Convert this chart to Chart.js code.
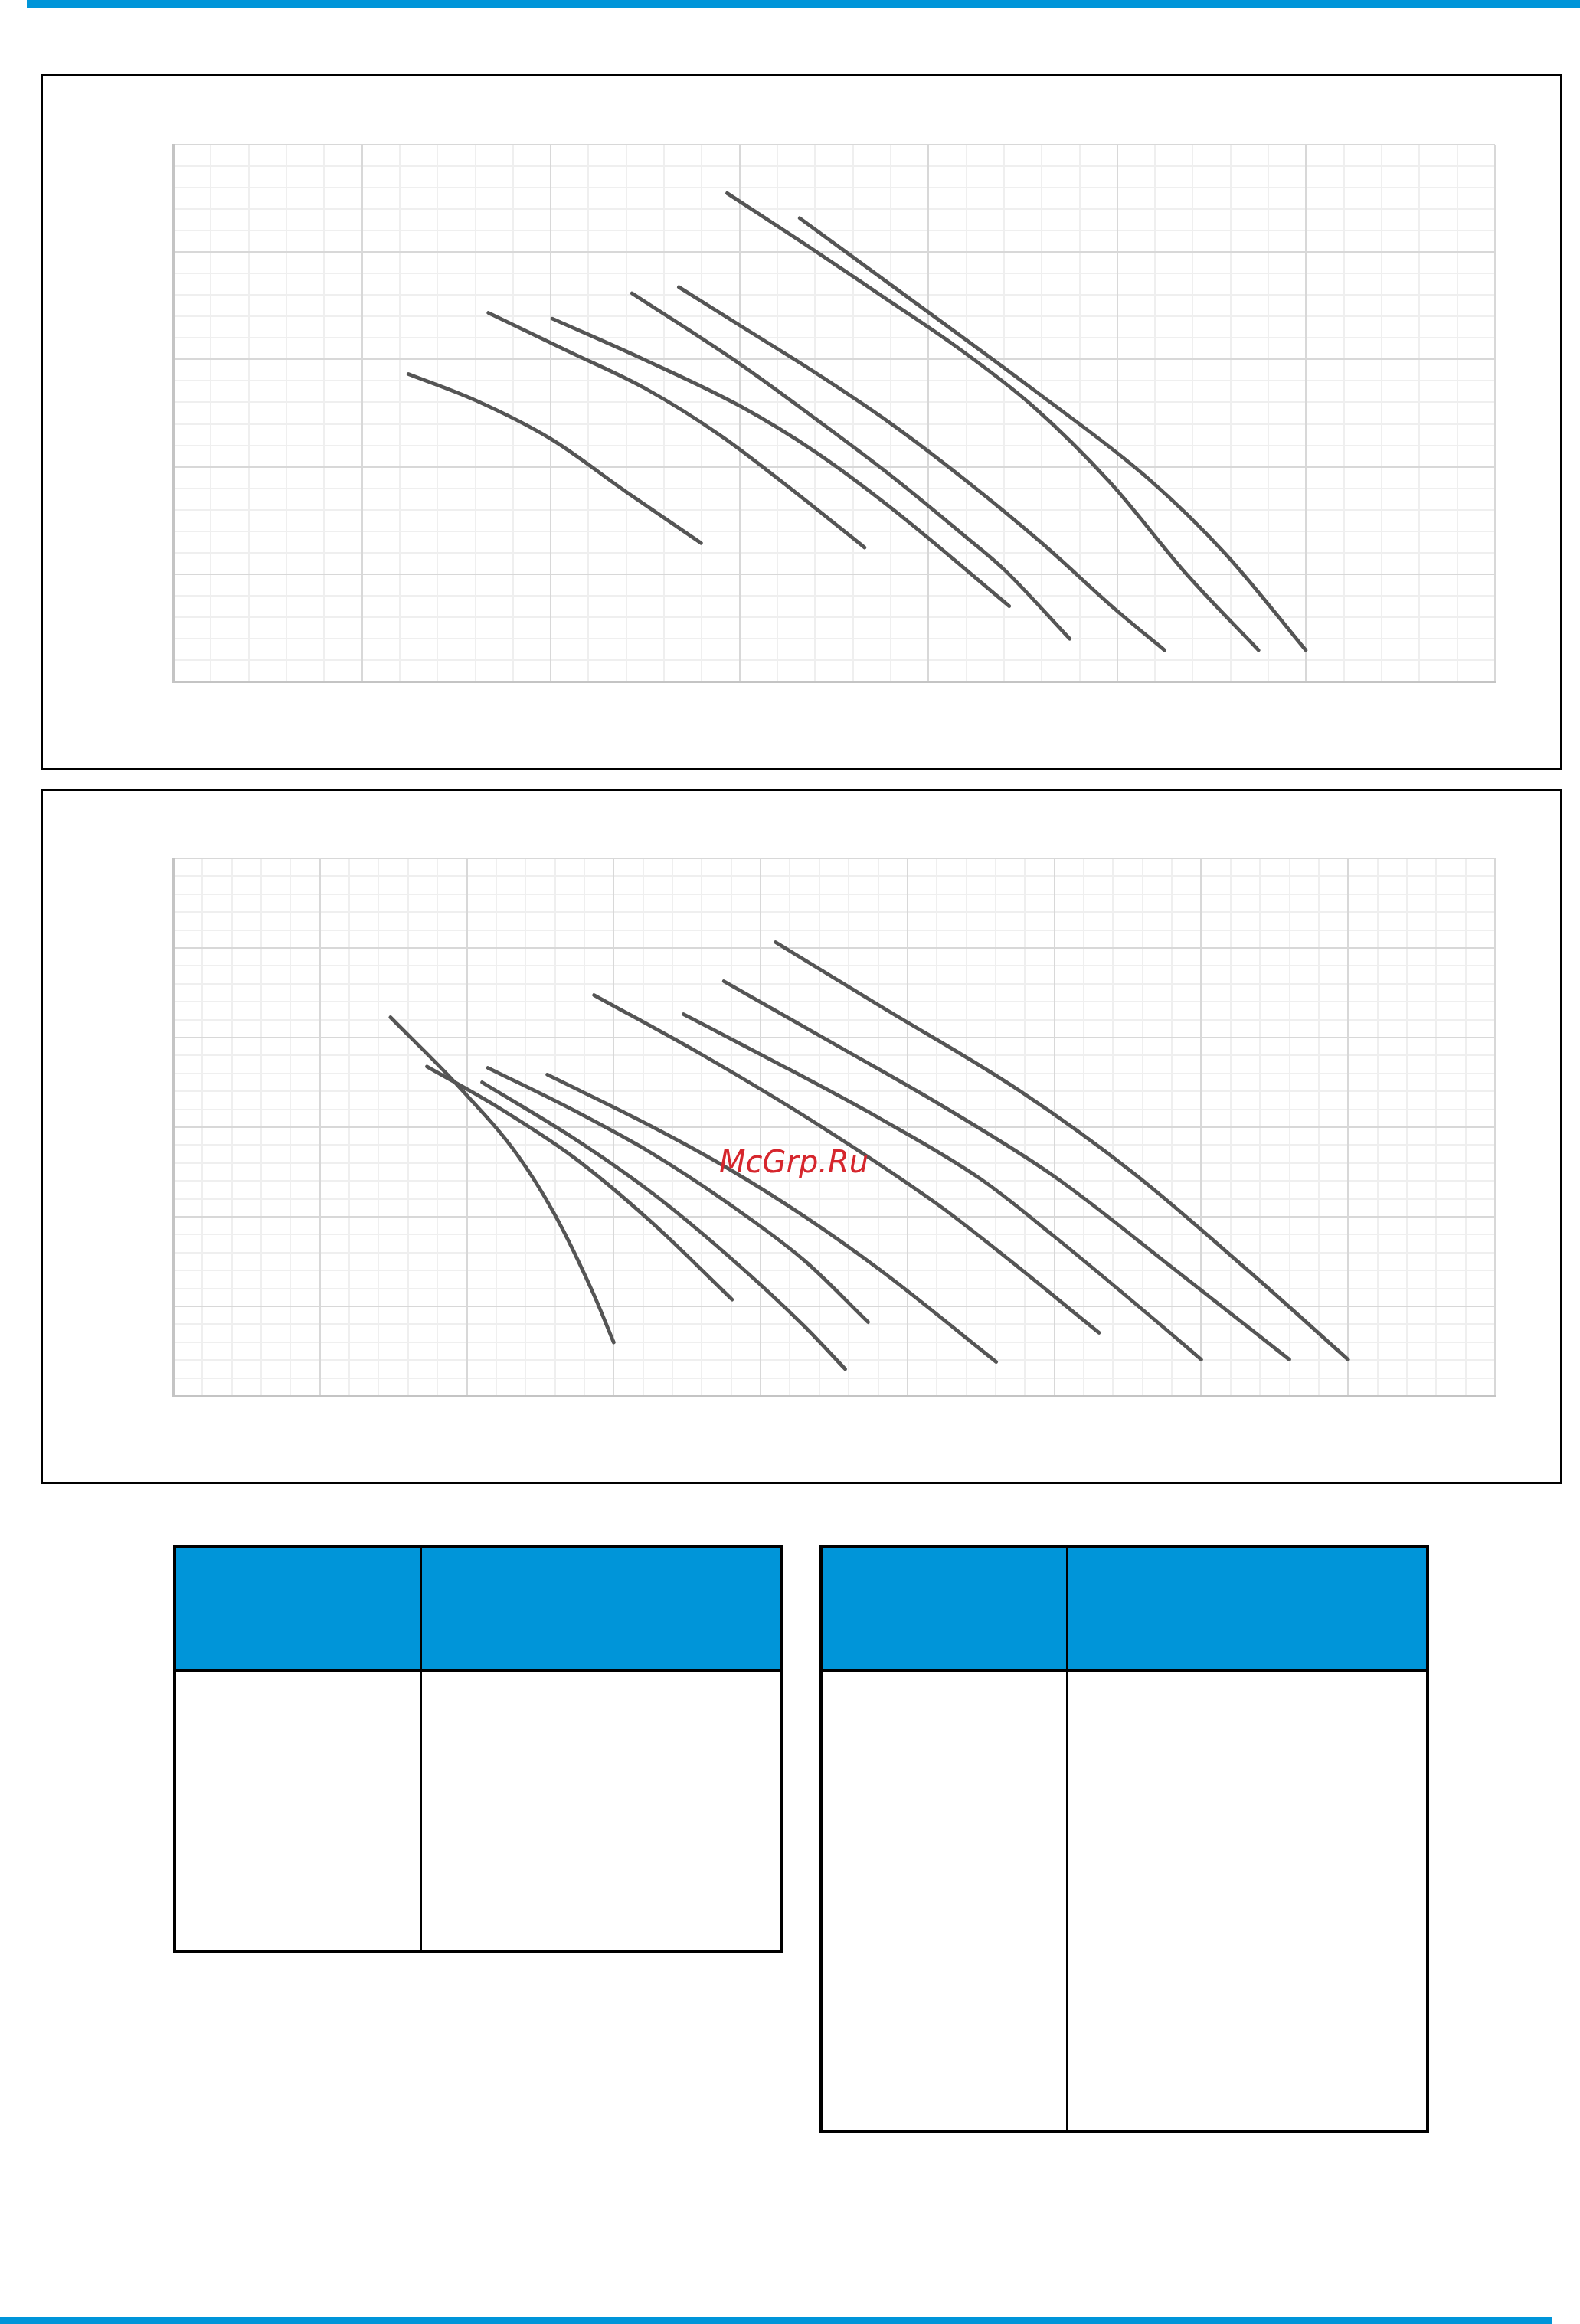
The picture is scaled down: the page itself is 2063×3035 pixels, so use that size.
<!DOCTYPE html>
<html>
<head>
<meta charset="utf-8">
<script src="https://cdn.jsdelivr.net/npm/chart.js@4/dist/chart.umd.min.js"></script>
<style>
    html, body { margin: 0; padding: 0; background: #fff; }
    body { width: 2063px; height: 3035px; position: relative; overflow: hidden; font-family: "DejaVu Sans", sans-serif; }
    .bar { position: absolute; height: 10px; background: #0095d9; }
    .frame { position: absolute; left: 54px; width: 1985px; border: 2px solid #000; box-sizing: border-box; }
    .plot { position: absolute; left: 222px; width: 1734px; }
    .tbl { position: absolute; top: 2018px; width: 796px; border: 4px solid #000; box-sizing: border-box; }
    .tbl .head { height: 157px; background: #0095d9; border-bottom: 4px solid #000; }
    .tbl .split { position: absolute; top: 0; bottom: 0; width: 3px; background: #000; }
    .mark { position: absolute; left: 939px; top: 1494px; font: oblique 40px "DejaVu Sans"; color: #d6262d; white-space: nowrap; }
</style>
</head>
<body>
<div class="bar" style="left:35px; right:0; top:0;"></div>

<div class="frame" style="top:97px; height:908px;"></div>
<div class="plot" style="top:185px; height:709px;"><canvas id="chartTop" width="1734" height="709"></canvas></div>

<div class="frame" style="top:1031px; height:907px;"></div>
<div class="plot" style="top:1117px; height:710px;"><canvas id="chartBottom" width="1734" height="710"></canvas></div>
<div class="mark">McGrp.Ru</div>

<div class="tbl" style="left:226px; height:533px;"><div class="head"></div><div class="split" style="left:318px;"></div></div>
<div class="tbl" style="left:1070px; height:767px;"><div class="head"></div><div class="split" style="left:318px;"></div></div>

<div class="bar" style="left:0; width:2026px; top:3026px; height:9px;"></div>

<script>
// 위쪽 그래프: 격자 단위 (가로 0-35, 세로 0-25)
const topRangeX = 35;
const topRangeY = 25;
const topCurveA = [[6.23, 14.32], [8.0, 13.1], [10.0, 11.3], [12.0, 8.83], [13.98, 6.45]];
const topCurveB = [[8.35, 17.17], [10.5, 15.35], [12.5, 13.65], [14.5, 11.45], [16.5, 8.78], [18.31, 6.24]];
const topCurveC = [[10.04, 16.9], [12.44, 15.02], [15.0, 12.84], [17.0, 10.7], [19.0, 8.1], [22.14, 3.51]];
const topCurveD = [[12.15, 18.08], [15.0, 14.8], [17.0, 12.25], [19.0, 9.6], [21.0, 6.72], [22.0, 5.22], [23.74, 1.99]];
const topCurveE = [[13.39, 18.37], [15.0, 16.59], [17.0, 14.39], [19.0, 12.02], [21.0, 9.35], [23.0, 6.45], [25.0, 3.28], [26.25, 1.46]];
const topCurveF = [[14.67, 22.74], [16.69, 20.42], [18.72, 18.01], [20.75, 15.58], [22.78, 12.8], [24.81, 9.27], [26.84, 4.99], [28.74, 1.46]];
const topCurveG = [[16.59, 21.58], [19.74, 17.53], [22.78, 13.59], [25.82, 9.45], [27.85, 5.97], [29.99, 1.46]];

// 아래쪽 그래프: 격자 단위 (가로 0-45, 세로 0-30)
const bottomRangeX = 45;
const bottomRangeY = 30;
const bottomCurveH = [[7.4, 21.13], [9.74, 17.24], [11.7, 13.5], [13.0, 10.1], [14.31, 5.7], [15.0, 2.99]];
const bottomCurveI = [[8.64, 18.38], [11.04, 16.13], [13.66, 13.29], [16.27, 9.72], [19.03, 5.38]];
const bottomCurveJ = [[10.52, 17.5], [13.66, 14.36], [16.27, 11.37], [18.88, 7.84], [21.49, 3.89], [22.88, 1.5]];
const bottomCurveK = [[10.72, 18.31], [13.66, 15.92], [16.27, 13.57], [18.88, 10.77], [21.49, 7.56], [23.66, 4.12]];
const bottomCurveL = [[12.74, 17.93], [16.27, 15.06], [18.88, 12.71], [21.49, 10.02], [24.1, 6.99], [28.02, 1.9]];
const bottomCurveM = [[14.33, 22.37], [18.0, 19.05], [22.0, 15.1], [26.0, 10.72], [28.0, 8.2], [31.52, 3.53]];
const bottomCurveN = [[17.38, 21.3], [20.18, 18.91], [24.1, 15.45], [27.48, 12.12], [29.99, 8.91], [33.99, 3.45], [35.0, 2.03]];
const bottomCurveO = [[18.75, 23.14], [22.79, 19.38], [26.17, 16.2], [29.99, 12.26], [33.99, 7.2], [38.0, 2.03]];
const bottomCurveP = [[20.51, 25.32], [24.1, 21.73], [28.78, 17.07], [32.69, 12.44], [36.6, 6.99], [40.0, 2.03]];

const MINOR = '#efefef';
const MAJOR = '#d8d8d8';
const AXIS = '#c4c4c4';
const CURVE = '#555555';

function toDataset(points) {
    return {
        data: points.map(p => ({ x: p[0], y: p[1] })),
        showLine: true,
        borderColor: CURVE,
        borderWidth: 4.8,
        borderCapStyle: 'round',
        borderJoinStyle: 'round',
        cubicInterpolationMode: 'monotone',
        pointRadius: 0,
        pointHoverRadius: 0,
        fill: false
    };
}

function gridAxis(pos, max, step, color, showBorder) {
    return {
        type: 'linear',
        position: pos,
        min: 0,
        max: max,
        ticks: { display: false, stepSize: step },
        grid: { color: color, lineWidth: 2, drawTicks: false },
        border: showBorder ? { display: true, color: AXIS, width: 3 } : { display: false }
    };
}

function makeChart(id, curves, maxX, maxY) {
    return new Chart(document.getElementById(id), {
        type: 'scatter',
        data: { datasets: curves.map(toDataset) },
        options: {
            responsive: false,
            animation: false,
            devicePixelRatio: 1,
            layout: { padding: 4 },
            plugins: { legend: { display: false }, tooltip: { enabled: false } },
            scales: {
                xm: gridAxis('bottom', maxX, 1, MINOR, false),
                ym: gridAxis('left', maxY, 1, MINOR, false),
                x: gridAxis('bottom', maxX, 5, MAJOR, true),
                y: gridAxis('left', maxY, 5, MAJOR, true)
            }
        }
    });
}

makeChart('chartTop', [topCurveA, topCurveB, topCurveC, topCurveD, topCurveE, topCurveF, topCurveG], topRangeX, topRangeY);
makeChart('chartBottom', [bottomCurveH, bottomCurveI, bottomCurveJ, bottomCurveK, bottomCurveL, bottomCurveM, bottomCurveN, bottomCurveO, bottomCurveP], bottomRangeX, bottomRangeY);
</script>
</body>
</html>
